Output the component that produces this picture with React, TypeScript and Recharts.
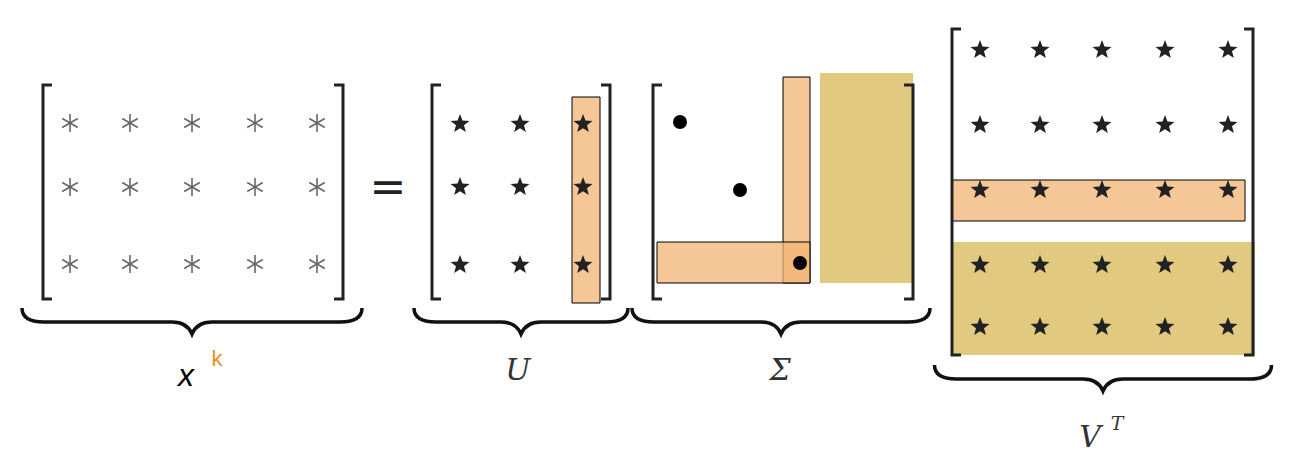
import React from "react";
import { ScatterChart, Scatter, XAxis, YAxis, ReferenceArea } from "recharts";

const W = 1289;
const H = 465;

// star grids: column x and row y of each matrix
const xCols = [70, 130, 192, 255, 317];
const xRows = [123, 187, 264];
const uCols = [460, 520, 583];
const uRows = [124, 187, 265];
const vCols = [980, 1040, 1102, 1165, 1228];
const vRows = [50, 125, 190, 265, 327];
const sigmaDots = [
  { x: 680, y: 122 },
  { x: 740, y: 190 },
  { x: 800, y: 263 },
];

const brackets = [
  { x: 43, y: 192, h: 214, side: 1 },
  { x: 343, y: 192, h: 214, side: -1 },
  { x: 432, y: 192, h: 214, side: 1 },
  { x: 610, y: 192, h: 214, side: -1 },
  { x: 653, y: 192, h: 214, side: 1 },
  { x: 913, y: 192, h: 214, side: -1 },
  { x: 952, y: 192, h: 326, side: 1 },
  { x: 1253, y: 192, h: 326, side: -1 },
];

const braces = [
  { x: 192, y: 318, w: 340 },
  { x: 521, y: 318, w: 214 },
  { x: 781, y: 318, w: 298 },
  { x: 1103, y: 375, w: 337 },
];

const orangeBoxes = [
  { x1: 572, x2: 600, y1: 97, y2: 303 },
  { x1: 783, x2: 810, y1: 77, y2: 283 },
  { x1: 657, x2: 810, y1: 242, y2: 283 },
  { x1: 952, x2: 1245, y1: 180, y2: 221 },
];
const goldBoxes = [
  { x1: 820, x2: 913, y1: 73, y2: 283 },
  { x1: 952, x2: 1255, y1: 242, y2: 355 },
];

const labels = [
  { x: 388, y: 202, text: "=", kind: "eq" },
  { x: 518, y: 380, text: "U", kind: "serif" },
  { x: 780, y: 380, text: "Σ", kind: "serif" },
];

const grid = (cols: number[], rows: number[]) =>
  rows.flatMap((y) => cols.map((x) => ({ x, y })));

const starPath = (cx: number, cy: number, r: number) => {
  const pts: string[] = [];
  for (let i = 0; i < 10; i++) {
    const rr = i % 2 === 0 ? r : r * 0.42;
    const a = -Math.PI / 2 + (i * Math.PI) / 5;
    pts.push(`${cx + rr * Math.cos(a)},${cy + rr * Math.sin(a)}`);
  }
  return "M" + pts.join("L") + "Z";
};

const Asterisk = (p: any) => {
  const { cx, cy } = p;
  const r = 9;
  return (
    <g stroke="#666" strokeWidth={1.6}>
      {[0, 60, 120].map((a) => {
        const t = ((a + 90) * Math.PI) / 180;
        return (
          <line key={a} x1={cx - r * Math.cos(t)} y1={cy - r * Math.sin(t)} x2={cx + r * Math.cos(t)} y2={cy + r * Math.sin(t)} />
        );
      })}
    </g>
  );
};

const Star = (p: any) => <path d={starPath(p.cx, p.cy, 10)} fill="#222" />;
const Dot = (p: any) => <circle cx={p.cx} cy={p.cy} r={7} fill="#000" />;

const Bracket = (p: any) => {
  const { cx, cy, payload } = p;
  const h = payload.h / 2;
  const s = payload.side * 9;
  return (
    <path d={`M${cx + s},${cy - h} L${cx},${cy - h} L${cx},${cy + h} L${cx + s},${cy + h}`} fill="none" stroke="#222" strokeWidth={3} />
  );
};

const Brace = (p: any) => {
  const { cx, cy, payload } = p;
  const w = payload.w / 2;
  const d = `M${cx - w},${cy - 10} Q${cx - w},${cy + 4} ${cx - w + 22},${cy + 4} L${cx - 20},${cy + 4} Q${cx - 5},${cy + 4} ${cx},${cy + 16} Q${cx + 5},${cy + 4} ${cx + 20},${cy + 4} L${cx + w - 22},${cy + 4} Q${cx + w},${cy + 4} ${cx + w},${cy - 10}`;
  return <path d={d} fill="none" stroke="#111" strokeWidth={3.5} />;
};

const Label = (p: any) => {
  const { cx, cy, payload } = p;
  if (payload.kind === "eq")
    return <text x={cx} y={cy} textAnchor="middle" fontSize={44} fontFamily="DejaVu Sans" fill="#222">=</text>;
  return <text x={cx} y={cy} textAnchor="middle" fontSize={30} fontStyle="italic" fontFamily="DejaVu Serif" fill="#333">{payload.text}</text>;
};

const App = () => (
  <div style={{ position: "absolute", left: 0, top: 0, background: "#fff" }}>
    <ScatterChart width={W} height={H} margin={{ top: 0, right: 0, bottom: 0, left: 0 }}>
      <XAxis type="number" dataKey="x" domain={[0, W]} hide />
      <YAxis type="number" dataKey="y" domain={[0, H]} reversed hide />
      <Scatter data={grid(xCols, xRows)} shape={Asterisk} isAnimationActive={false} />
      <Scatter data={grid(uCols, uRows)} shape={Star} isAnimationActive={false} />
      <Scatter data={grid(vCols, vRows)} shape={Star} isAnimationActive={false} />
      <Scatter data={sigmaDots} shape={Dot} isAnimationActive={false} />
      {goldBoxes.map((b, i) => (
        <ReferenceArea key={"g" + i} {...b} fill="#dcc06a" fillOpacity={0.85} stroke="none" ifOverflow="visible" />
      ))}
      {orangeBoxes.map((b, i) => (
        <ReferenceArea key={"o" + i} {...b} fill="#f2b373" fillOpacity={0.75} stroke="#000" strokeWidth={1} strokeOpacity={1} ifOverflow="visible" />
      ))}
      <Scatter data={brackets} shape={Bracket} isAnimationActive={false} />
      <Scatter data={braces} shape={Brace} isAnimationActive={false} />
      <Scatter data={labels} shape={Label} isAnimationActive={false} />
      <text x={186} y={386} textAnchor="middle" fontSize={32} fontStyle="italic" fontFamily="Liberation Sans" fill="#000">x</text>
      <text x={217} y={366} textAnchor="middle" fontSize={22} fontFamily="Liberation Sans" fill="#e8901c">k</text>
      <text x={1090} y={447} textAnchor="middle" fontSize={30} fontStyle="italic" fontFamily="DejaVu Serif" fill="#333">V</text>
      <text x={1117} y={430} textAnchor="middle" fontSize={19} fontStyle="italic" fontFamily="DejaVu Serif" fill="#333">T</text>
    </ScatterChart>
  </div>
);

export default App;
